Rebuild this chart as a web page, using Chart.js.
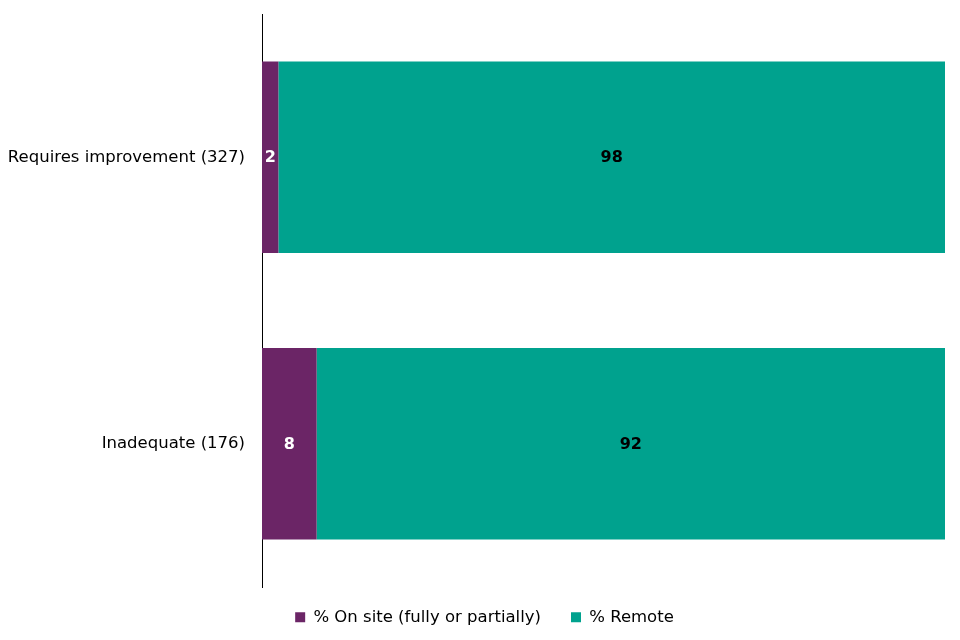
<!DOCTYPE html>
<html>
<head>
<meta charset="utf-8">
<script src="https://cdn.jsdelivr.net/npm/chart.js@4"></script>
<style>
  html, body { margin: 0; padding: 0; background: #fff; }
  #wrap { width: 960px; height: 640px; }
</style>
</head>
<body>
<div id="wrap"><canvas id="chart" width="960" height="640"></canvas></div>
<script>
const categories = ['Requires improvement (327)', 'Inadequate (176)'];
// bar lengths; labels show them rounded
const onSite = [2.4, 8];
const remote = [97.6, 92];
const seriesNames = ['% On site (fully or partially)', '% Remote'];

const FONT = "'DejaVu Sans', sans-serif";

// draws the value in the middle of each bar segment
const barLabels = {
  id: 'barLabels',
  afterDatasetsDraw(chart) {
    const ctx = chart.ctx;
    ctx.save();
    ctx.font = `bold 16px ${FONT}`;
    ctx.textAlign = 'center';
    ctx.textBaseline = 'middle';
    chart.data.datasets.forEach((ds, i) => {
      chart.getDatasetMeta(i).data.forEach((bar, j) => {
        const x = (bar.x + bar.base) / 2;
        ctx.fillStyle = i === 0 ? '#ffffff' : '#000000';
        ctx.fillText(Math.round(ds.data[j]), x, bar.y + 1);
      });
    });
    ctx.restore();
  }
};

// nudge the legend so it sits centred on the page like the original
const legendShift = {
  id: 'legendShift',
  afterLayout(chart) {
    const lg = chart.legend;
    lg.left += 12; lg.right += 12;
    lg.top -= 8; lg.bottom -= 8;
  }
};

new Chart(document.getElementById('chart'), {
  type: 'bar',
  data: {
    labels: categories,
    datasets: [
      { label: seriesNames[0], data: onSite, backgroundColor: '#6B2566' },
      { label: seriesNames[1], data: remote, backgroundColor: '#00A28E' }
    ]
  },
  options: {
    indexAxis: 'y',
    responsive: false,
    animation: false,
    layout: { padding: { left: 0, right: 15, top: 14, bottom: 0 } },
    datasets: { bar: { categoryPercentage: 1, barPercentage: 0.668 } },
    scales: {
      x: { stacked: true, min: 0, max: 100, display: false },
      y: {
        stacked: true,
        grid: { display: false },
        border: { display: true, color: '#000', width: 1 },
        ticks: { color: '#000', font: { family: FONT, size: 16.5 }, padding: 9 },
        afterFit(scale) {
          scale.width = 262;
          scale.paddingTop = 0;
          scale.paddingBottom = 0;
        }
      }
    },
    plugins: {
      legend: {
        position: 'bottom',
        maxHeight: 53,
        labels: {
          color: '#000',
          font: { family: FONT, size: 16.5 },
          boxWidth: 10, boxHeight: 10,
          padding: 30
        }
      },
      tooltip: { enabled: false }
    }
  },
  plugins: [barLabels, legendShift]
});
</script>
</body>
</html>
